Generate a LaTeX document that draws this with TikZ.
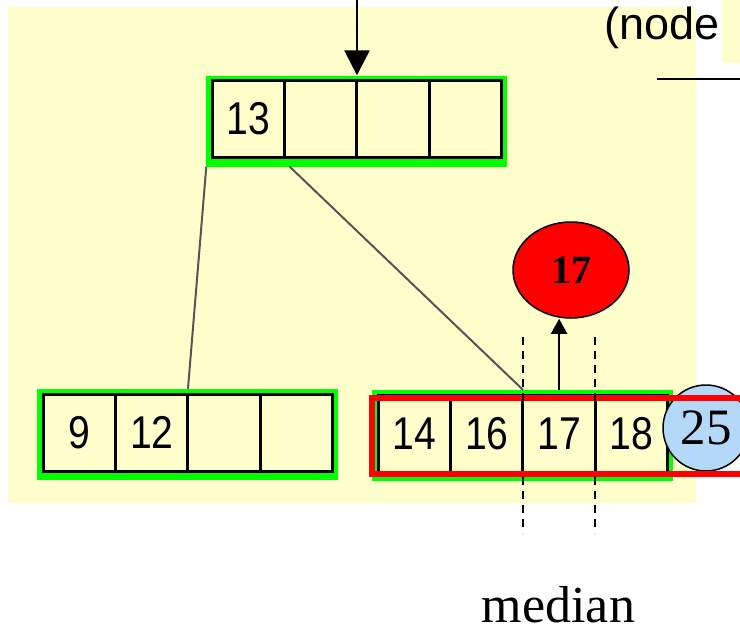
\documentclass[tikz,border=0pt]{standalone}
\usepackage{fontspec}
\setmainfont{Liberation Serif}
\setsansfont{Liberation Sans}
\newfontfamily\cellfont[FakeStretch=0.85]{Liberation Sans}
\usepackage{tikz}
\usetikzlibrary{shapes,arrows.meta,positioning,fit,backgrounds}
\usepackage{xcolor}
\definecolor{paleyellow}{RGB}{255,255,204}
\definecolor{framegreen}{RGB}{0,255,0}
\definecolor{splitred}{RGB}{255,0,0}
\definecolor{keyblue}{RGB}{180,216,247}
\definecolor{linkgrey}{RGB}{85,85,85}

\tikzset{
    cell/.style={draw, line width=3pt, fill=paleyellow, rectangle, minimum width=72.25pt, minimum height=77pt, inner sep=0pt, outer sep=0pt, font=\cellfont\fontsize{46}{46}\selectfont},
    greenframe/.style={fill=framegreen, rectangle, inner xsep=6pt, inner ysep=7pt, yshift=-2pt},
    link/.style={draw=linkgrey, line width=2pt},
    entryarrow/.style={line width=2.5pt, -{Triangle[length=25pt,width=25pt]}},
    keyarrow/.style={line width=2pt, -{Triangle[length=15pt,width=16pt]}},
    medianline/.style={line width=1.5pt, dash pattern=on 8pt off 6pt},
    splitbox/.style={draw=splitred, line width=6pt}
}

\begin{document}
\begin{tikzpicture}[x=1pt, y=-1pt]
    \useasboundingbox (0,0) rectangle (740,630);
    \begin{scope}[on background layer]
        \fill[paleyellow] (8,7) rectangle (696,503);
        \fill[paleyellow] (722,0) rectangle (745,63);
    \end{scope}

    \node[anchor=base west, inner sep=0pt] (heading) at (604,39) {\sffamily\fontsize{45}{45}\selectfont (node};
    \draw[line width=2pt] (657,79) -- (745,79);

    \node[cell] (t1) at (248.6,119) {13};
    \node[cell, right=0pt of t1] (t2) {};
    \node[cell, right=0pt of t2] (t3) {};
    \node[cell, right=0pt of t3] (t4) {};

    \node[cell] (l1) at (79.6,432.5) {9};
    \node[cell, right=0pt of l1] (l2) {12};
    \node[cell, right=0pt of l2] (l3) {};
    \node[cell, right=0pt of l3] (l4) {};

    \node[cell] (r1) at (414.6,433.5) {14};
    \node[cell, right=0pt of r1] (r2) {16};
    \node[cell, right=0pt of r2] (r3) {17};
    \node[cell, right=0pt of r3] (r4) {18};

    \begin{scope}[on background layer]
        \node[greenframe, fit=(t1)(t4)] (tframe) {};
        \node[greenframe, fit=(l1)(l4)] (lframe) {};
        \node[greenframe, fit=(r1)(r4)] (rframe) {};
    \end{scope}

    \coordinate (entry) at (t2.north east |- 0,0);
    \draw[entryarrow] (entry) -- (tframe.north -| t2.north east);
    \draw[link] (tframe.south west) -- (lframe.north -| l2.north east);
    \draw[link] ([xshift=5pt]tframe.south -| t2.south west) -- (rframe.north -| r3.north west);

    \node[circle, draw, line width=1.5pt, fill=keyblue, minimum size=86pt, inner sep=0pt, font=\fontsize{51}{51}\selectfont] (c25) at (706,428) {25};
    \draw[splitbox] (371.5,397.5) rectangle (760,474);

    \node[ellipse, draw, line width=1.5pt, fill=splitred, minimum width=116pt, minimum height=96pt, inner sep=0pt, font=\bfseries\fontsize{40}{40}\selectfont] (key) at (571,270) {17};
    \draw[keyarrow] (rframe.north -| r3.north) -- (r3.north |- key.south);

    \draw[medianline] (r3.north west |- 0,337) -- (r3.south west |- 0,533);
    \draw[medianline] (r4.north west |- 0,337) -- (r4.south west |- 0,533);

    \node[anchor=base, inner sep=0pt, font=\fontsize{52}{52}\selectfont] (medlabel) at (558.5,622) {median};
\end{tikzpicture}
\end{document}
